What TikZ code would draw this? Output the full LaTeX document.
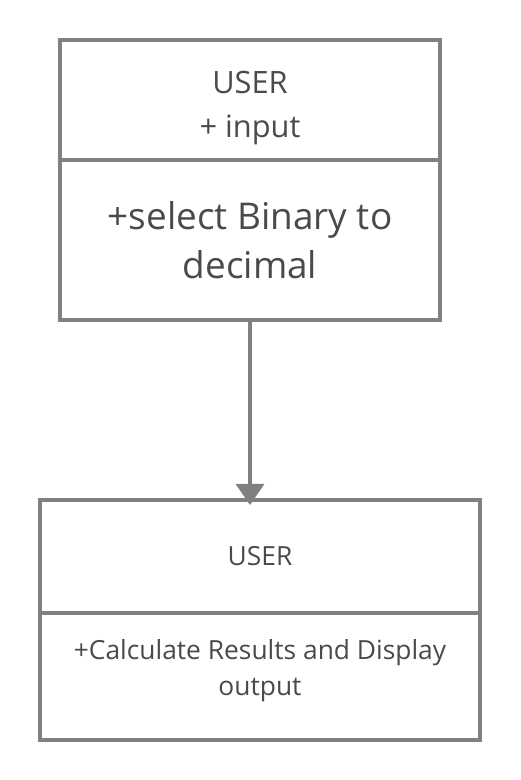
\documentclass[tikz,border=0pt]{standalone}
\usepackage{fontspec}
\setmainfont{Open Sans}
\usetikzlibrary{positioning,arrows.meta}

\definecolor{boxline}{HTML}{808080}
\definecolor{boxtext}{HTML}{4A4A4A}

\begin{document}
\begin{tikzpicture}
\tikzstyle{every path}=[line width=1.8pt,boxline]

\edef\widthtop{7.6cm}
\edef\widthbot{8.8cm}
\tikzstyle{classpart}=[draw=boxline,line width=1.8pt,fill=white,text=boxtext,
outer sep=0pt,inner sep=2pt,align=center]
\tikzstyle{flow}=[-{Triangle[width=16pt,length=12pt]}]

\useasboundingbox (0,0) rectangle (10.4,-15.6);

%% Upper class box
\node [classpart,minimum width=\widthtop,minimum height=2.4cm,
  font=\fontsize{17.5}{25}\selectfont] at (5.0,-2.0) (userhead)
  {\rule{0pt}{21.5pt}USER\\+ input};
\node [classpart,minimum width=\widthtop,minimum height=3.2cm,
  font=\fontsize{21}{28}\selectfont,below=0pt of userhead] (userbody)
  {+select Binary to\\decimal};

%% Lower class box
\node [classpart,minimum width=\widthbot,minimum height=2.26cm,
  font=\fontsize{15}{20.5}\selectfont] at (5.2,-11.13) (resulthead) {USER};
\node [classpart,minimum width=\widthbot,minimum height=2.54cm,
  font=\fontsize{15}{20.5}\selectfont,below=0pt of resulthead] (resultbody)
  {+Calculate Results and Display\\output\rule[-10.4pt]{0pt}{0pt}};

%% Connector
\draw [flow,shorten >=-0.1cm] (userbody.south) -- (userbody.south |- resulthead.north);
\end{tikzpicture}
\end{document}
